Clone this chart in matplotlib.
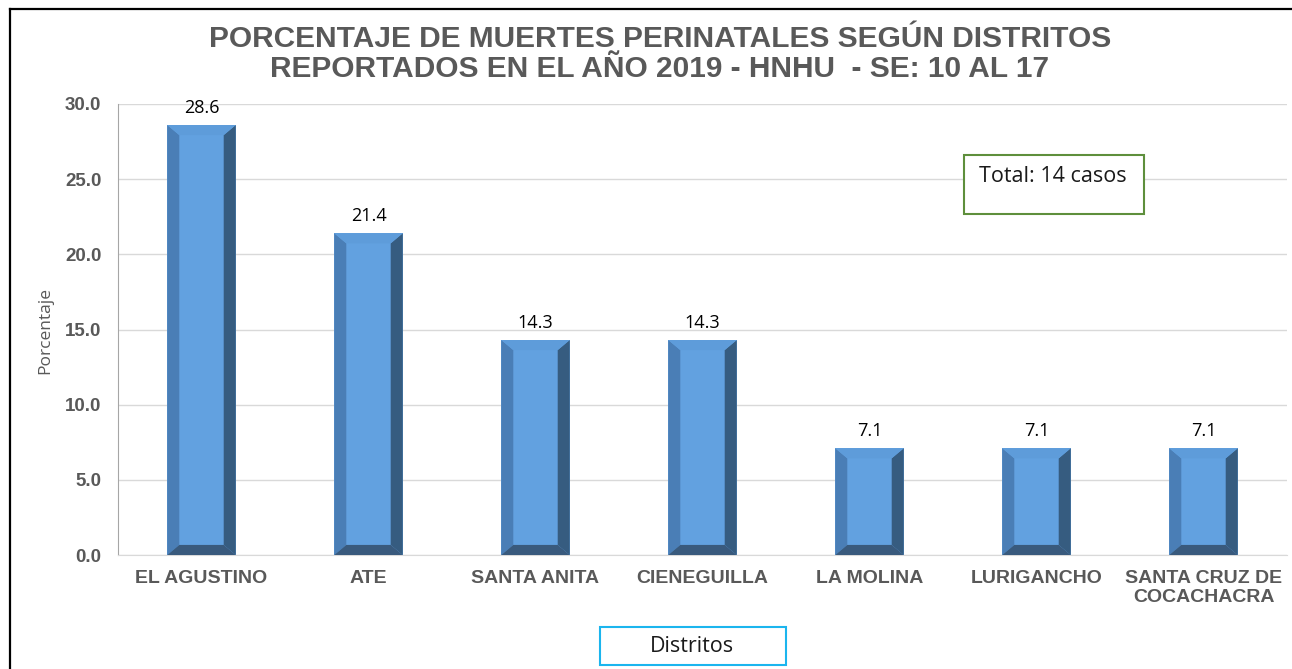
import matplotlib.pyplot as plt
import numpy as np
from matplotlib.patches import Polygon, Rectangle
from matplotlib.lines import Line2D

distritos = ["EL AGUSTINO", "ATE", "SANTA ANITA", "CIENEGUILLA",
             "LA MOLINA", "LURIGANCHO", "SANTA CRUZ DE\nCOCACHACRA"]
porcentaje = [28.6, 21.4, 14.3, 14.3, 7.1, 7.1, 7.1]

title = ("PORCENTAJE DE MUERTES PERINATALES SEGÚN DISTRITOS\n"
         "REPORTADOS EN EL AÑO 2019 - HNHU  - SE: 10 AL 17")

W, H = 1292, 669
fig = plt.figure(figsize=(W / 100, H / 100), dpi=100)
ax = fig.add_axes([118 / W, 1 - 555 / H, (1287 - 118) / W, (555 - 104) / H])

x = np.arange(len(distritos))
width = 0.41
face = "#62A1E0"
rects = ax.bar(x, porcentaje, width, color=face, zorder=2)

# bevel edges, in data units (about 12 px sideways, 10 px vertically)
dx, dy = 0.072, 0.67
for r in rects:
    xl, xr, h = r.get_x(), r.get_x() + r.get_width(), r.get_height()
    sides = [
        ([(xl, 0), (xl, h), (xl + dx, h - dy), (xl + dx, dy)], "#4A7EB6"),
        ([(xr, 0), (xr, h), (xr - dx, h - dy), (xr - dx, dy)], "#365C80"),
        ([(xl, h), (xr, h), (xr - dx, h - dy), (xl + dx, h - dy)], "#5E9CDA"),
        ([(xl, 0), (xr, 0), (xr - dx, dy), (xl + dx, dy)], "#395A7D"),
    ]
    for pts, c in sides:
        ax.add_patch(Polygon(pts, closed=True, facecolor=c, edgecolor="none", zorder=3))
    ax.annotate(f"{h:.1f}", (r.get_x() + r.get_width() / 2, h), xytext=(0, 12.5),
                textcoords="offset points", ha="center", va="center",
                fontsize=13, family="Open Sans", color="black")

ax.set_xlim(-0.5, len(distritos) - 0.5)
ax.set_ylim(0, 30)
ax.set_yticks(np.arange(0, 30.1, 5))
ax.set_yticklabels([f"{v:.1f}" for v in np.arange(0, 30.1, 5)])
ax.set_xticks(x, distritos)
for lab in ax.get_xticklabels() + ax.get_yticklabels():
    lab.set_family("Liberation Sans")
    lab.set_fontweight("bold")
    lab.set_color("#595959")
for lab in ax.get_xticklabels():
    lab.set_fontsize(14)
    lab.set_linespacing(1.1)
for lab in ax.get_yticklabels():
    lab.set_fontsize(13.5)
ax.tick_params(axis="both", length=0)
ax.tick_params(axis="y", pad=12)
ax.tick_params(axis="x", pad=11)
ax.grid(axis="y", color="#D9D9D9", linewidth=1, zorder=0)
ax.set_axisbelow(True)
for s in ["top", "right"]:
    ax.spines[s].set_visible(False)
ax.spines["left"].set_color("#A6A6A6")
ax.spines["bottom"].set_color("#D9D9D9")

fig.text(45 / W, 1 - 330 / H, "Porcentaje", rotation=90, ha="center", va="center",
         fontsize=12.5, family="Open Sans", color="#595959")

fig.text(660 / W, 1 - 54 / H, title, ha="center", va="center", fontsize=21.5,
         fontweight="bold", family="Liberation Sans", color="#595959", linespacing=1.05)

# boxes
fig.add_artist(Rectangle((964 / W, 1 - 214 / H), 180 / W, 59 / H, transform=fig.transFigure,
                         facecolor="white", edgecolor="#5E8F3C", linewidth=1.5))
fig.text(1053 / W, 1 - 177 / H, "Total: 14 casos", ha="center", va="center",
         fontsize=15.5, family="Open Sans", color="#1a1a1a")
fig.add_artist(Rectangle((600 / W, 1 - 665 / H), 186 / W, 38 / H, transform=fig.transFigure,
                         facecolor="white", edgecolor="#1BB5EE", linewidth=1.5))
fig.text(692 / W, 1 - 647 / H, "Distritos", ha="center", va="center",
         fontsize=15.5, family="Open Sans", color="#1a1a1a")

# outer frame (left and top only visible)
fig.add_artist(Line2D([10 / W, 10 / W], [0, 1 - 9 / H], transform=fig.transFigure,
                      color="black", linewidth=1.6))
fig.add_artist(Line2D([10 / W, 1], [1 - 9 / H, 1 - 9 / H], transform=fig.transFigure,
                      color="black", linewidth=1.6))

fig.savefig("out.png", dpi=100)
